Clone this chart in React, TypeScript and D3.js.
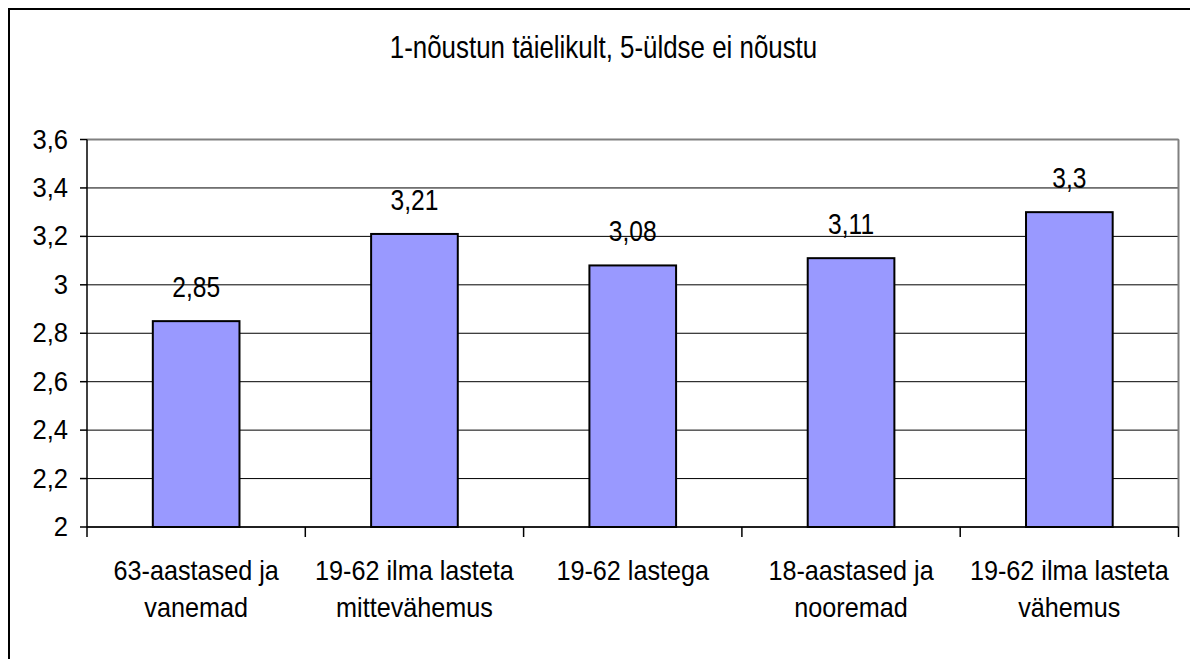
import React, { useEffect } from "react";
import * as d3 from "d3";

const title = "1-nõustun täielikult, 5-üldse ei nõustu";
const categories: string[][] = [
  ["63-aastased ja", "vanemad"],
  ["19-62 ilma lasteta", "mittevähemus"],
  ["19-62 lastega"],
  ["18-aastased ja", "nooremad"],
  ["19-62 ilma lasteta", "vähemus"],
];
const values = [2.85, 3.21, 3.08, 3.11, 3.3];
const valueLabels = ["2,85", "3,21", "3,08", "3,11", "3,3"];
const yTicks = [2, 2.2, 2.4, 2.6, 2.8, 3, 3.2, 3.4, 3.6];

const W = 1190;
const H = 659;
const plot = { left: 87, right: 1178.5, top: 139.5, bottom: 527 };
const FONT = "'Liberation Sans', Arial, sans-serif";

const fmt = (v: number) => {
  const s = d3.format(".1f")(v);
  return (s.endsWith(".0") ? s.slice(0, -2) : s).replace(".", ",");
};

export default function App() {
  useEffect(() => {
    document.body.style.overflow = "hidden";
    document.documentElement.style.overflow = "hidden";
  }, []);

  const x = d3
    .scaleBand<number>()
    .domain(categories.map((_, i) => i))
    .range([plot.left, plot.right])
    .paddingInner(0)
    .paddingOuter(0);
  const y = d3.scaleLinear().domain([2, 3.6]).range([plot.bottom, plot.top]);
  const bw = x.bandwidth();
  const barW = bw * 0.397;

  const stretched = (
    key: string,
    tx: number,
    ty: number,
    s: number,
    size: number,
    anchor: string,
    txt: string
  ) => (
    <text
      key={key}
      transform={`translate(${tx},${ty}) scale(1,${s})`}
      textAnchor={anchor as any}
      fontFamily={FONT}
      fontSize={size}
      fill="#000"
    >
      {txt}
    </text>
  );

  return (
    <svg
      width={W}
      height={H}
      style={{ position: "absolute", left: 0, top: 0, background: "#fff", display: "block" }}
    >
      <rect x={0} y={0} width={W} height={H} fill="#fff" />
      {/* outer chart border */}
      <rect x={9} y={9} width={1300} height={800} fill="none" stroke="#000" strokeWidth={2} />
      {stretched("title", 603.5, 58.3, 1.2, 25.9, "middle", title)}

      {/* gridlines */}
      {yTicks.map((t) => (
        <line
          key={"g" + t}
          x1={plot.left}
          x2={plot.right}
          y1={y(t)}
          y2={y(t)}
          stroke="#000"
          strokeWidth={1}
        />
      ))}
      {/* plot area border (top/right) */}
      <line x1={plot.left} x2={plot.right} y1={plot.top} y2={plot.top} stroke="#808080" strokeWidth={2} />
      <line x1={plot.right} x2={plot.right} y1={plot.top} y2={plot.bottom} stroke="#808080" strokeWidth={2} />

      {/* bars */}
      {values.map((v, i) => {
        const cx = (x(i) as number) + bw / 2;
        return (
          <rect
            key={"b" + i}
            x={cx - barW / 2}
            y={y(v)}
            width={barW}
            height={plot.bottom - y(v)}
            fill="#9999FF"
            stroke="#000"
            strokeWidth={2}
          />
        );
      })}
      {/* value labels */}
      {values.map((v, i) =>
        stretched("v" + i, (x(i) as number) + bw / 2, y(v) - 24, 1.22, 24.6, "middle", valueLabels[i])
      )}

      {/* y axis */}
      <line x1={plot.left} x2={plot.left} y1={plot.top} y2={plot.bottom + 10} stroke="#000" strokeWidth={1.5} />
      {yTicks.map((t) => (
        <g key={"yt" + t}>
          <line x1={plot.left - 7} x2={plot.left} y1={y(t)} y2={y(t)} stroke="#000" strokeWidth={1.5} />
          {stretched("yl" + t, 68, y(t) + 9, 1.05, 25.6, "end", fmt(t))}
        </g>
      ))}

      {/* x axis */}
      <line x1={plot.left} x2={plot.right} y1={plot.bottom} y2={plot.bottom} stroke="#000" strokeWidth={1.5} />
      {categories.map((_, i) => (
        <line
          key={"xt" + i}
          x1={(x(i) as number) + bw}
          x2={(x(i) as number) + bw}
          y1={plot.bottom}
          y2={plot.bottom + 10}
          stroke="#000"
          strokeWidth={1.5}
        />
      ))}
      {categories.map((lines, i) =>
        lines.map((ln, j) =>
          stretched("c" + i + "-" + j, (x(i) as number) + bw / 2, 580 + j * 37, 1.07, 25.2, "middle", ln)
        )
      )}
    </svg>
  );
}
